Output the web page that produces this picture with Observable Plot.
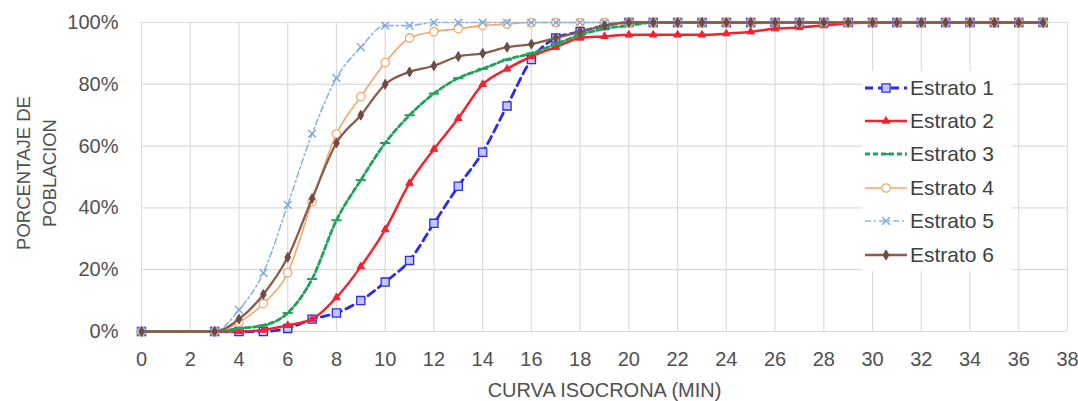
<!DOCTYPE html>
<html>
<head>
<meta charset="utf-8">
<script src="https://cdn.jsdelivr.net/npm/d3@7"></script>
<script src="https://cdn.jsdelivr.net/npm/@observablehq/plot@0.6"></script>
<style>
  html, body { margin: 0; padding: 0; background: #fff; }
  #wrap { position: relative; width: 1078px; height: 401px; overflow: hidden; font-family: "Liberation Sans", Arial, sans-serif; }
  #legend { position: absolute; left: 862px; top: 71px; width: 150px; background: #fff; padding: 0; }
  .item { display: flex; align-items: center; height: 33.4px; font-size: 21px; color: #404040; white-space: nowrap; }
  .item svg { margin-right: 2px; flex: none; }
</style>
</head>
<body>
<div id="wrap"></div>
<script>
// ---- data (percentage of population reached per isochrone minute) ----
const minutes = [0, 3, 4, 5, 6, 7, 8, 9, 10, 11, 12, 13, 14, 15, 16, 17, 18, 19, 20, 21, 22, 23, 24, 25, 26, 27, 28, 29, 30, 31, 32, 33, 34, 35, 36, 37];
const estrato1 = [0, 0, 0, 0, 1, 4, 6, 10, 16, 23, 35, 47, 58, 73, 88, 95, 97, 99, 100, 100, 100, 100, 100, 100, 100, 100, 100, 100, 100, 100, 100, 100, 100, 100, 100, 100];
const estrato2 = [0, 0, 0, 0.5, 2, 4, 11, 21, 33, 48, 59, 69, 80, 85, 89, 92, 95, 95.5, 96, 96, 96, 96, 96.4, 97, 98, 98.4, 99, 99.7, 100, 100, 100, 100, 100, 100, 100, 100];
const estrato3 = [0, 0, 1, 2, 6, 17, 36, 49, 61, 70, 77, 82, 85, 88, 90, 93, 96, 98, 99, 100, 100, 100, 100, 100, 100, 100, 100, 100, 100, 100, 100, 100, 100, 100, 100, 100];
const estrato4 = [0, 0, 3, 9, 19, 42, 64, 76, 87, 95, 97, 98, 99, 99.5, 100, 100, 100, 100, 100, 100, 100, 100, 100, 100, 100, 100, 100, 100, 100, 100, 100, 100, 100, 100, 100, 100];
const estrato5 = [0, 0, 7, 19, 41, 64, 82, 92, 99, 99, 100, 100, 100, 100, 100, 100, 100, 100, 100, 100, 100, 100, 100, 100, 100, 100, 100, 100, 100, 100, 100, 100, 100, 100, 100, 100];
const estrato6 = [0, 0, 4, 12, 24, 43, 61, 70, 80, 84, 86, 89, 90, 92, 93, 95, 97, 99, 100, 100, 100, 100, 100, 100, 100, 100, 100, 100, 100, 100, 100, 100, 100, 100, 100, 100];
const seriesNames = ["Estrato 1", "Estrato 2", "Estrato 3", "Estrato 4", "Estrato 5", "Estrato 6"];
const xTicks = [0, 2, 4, 6, 8, 10, 12, 14, 16, 18, 20, 22, 24, 26, 28, 30, 32, 34, 36, 38];
const yTicks = [0, 20, 40, 60, 80, 100];

const allValues = [estrato1, estrato2, estrato3, estrato4, estrato5, estrato6];

// dash marker symbol (for Estrato 3)
const dashSymbol = { draw(ctx, size) { const w = Math.sqrt(size) * 0.9; ctx.moveTo(-w, 0); ctx.lineTo(w, 0); } };

const styles = [
  { stroke: "#2b2bee", width: 2.8, dash: "8,5", symbol: "square", r: 4.6, fill: "#c4c4ff", mstroke: "#2b2bee", msw: 1.3 },
  { stroke: "#f5222d", width: 2.5, dash: null, symbol: "triangle", r: 2.8, fill: "#f5222d", mstroke: "#f5222d", msw: 1 },
  { stroke: "#1fa35a", width: 2.8, dash: "5,3", symbol: dashSymbol, r: 3.2, fill: "none", mstroke: "#1fa35a", msw: 2 },
  { stroke: "#f4a56c", width: 1.6, dash: null, symbol: "circle", r: 4.2, fill: "#fff", mstroke: "#f4a56c", msw: 1.3 },
  { stroke: "#90b4df", width: 1.6, dash: "6,3,2,3", symbol: "times", r: 3.6, fill: "none", mstroke: "#7fa6d8", msw: 1.4 },
  { stroke: "#8a5a4c", width: 2.3, dash: null, symbol: "diamond", r: 3, fill: "#6e4c46", mstroke: "#6e4c46", msw: 1 }
];

const rows = [];
seriesNames.forEach((name, i) => {
  minutes.forEach((m, j) => rows.push({ serie: name, idx: i, x: m, y: allValues[i][j] / 100 }));
});

const marks = [
  Plot.gridX(xTicks, { stroke: "#dcdcdc", strokeOpacity: 1, strokeWidth: 1.2 }),
  Plot.gridY(yTicks.map(v => v / 100), { stroke: "#dcdcdc", strokeOpacity: 1, strokeWidth: 1.2 })
];
seriesNames.forEach((name, i) => {
  const s = styles[i];
  const data = rows.filter(r => r.idx === i);
  marks.push(Plot.line(data, { x: "x", y: "y", stroke: s.stroke, strokeWidth: s.width, strokeDasharray: s.dash || undefined, curve: "monotone-x" }));
  marks.push(Plot.dot(data, { x: "x", y: "y", symbol: () => s.symbol, r: s.r, fill: s.fill, stroke: s.mstroke, strokeWidth: s.msw }));
});
marks.push(Plot.text(["PORCENTAJE DE\nPOBLACION"], { text: d => d, frameAnchor: "left", textAnchor: "middle", dx: -107, dy: -4, rotate: -90, fontSize: 18.5, fill: "#505050", lineHeight: 1.4, fontFamily: "Liberation Sans, Arial, sans-serif" }));

const chart = Plot.plot({
  width: 1078,
  height: 401,
  marginLeft: 141,
  marginRight: 11,
  marginTop: 22,
  marginBottom: 70,
  style: { fontFamily: "Liberation Sans, Arial, sans-serif", fontSize: "20px", color: "#505050", background: "#fff" },
  x: { domain: [0, 38], ticks: xTicks, tickSize: 0, tickPadding: 20, label: "CURVA ISOCRONA (MIN)", labelAnchor: "center", labelArrow: "none", labelOffset: 65 },
  y: { domain: [0, 1], ticks: yTicks.map(v => v / 100), tickFormat: d3.format(".0%"), tickSize: 0, tickPadding: 23, label: null },
  symbol: { type: "identity" },
  marks
});
document.getElementById("wrap").appendChild(chart);

// legend
const legend = document.createElement("div");
legend.id = "legend";
const symMap = { square: d3.symbolSquare, triangle: d3.symbolTriangle, circle: d3.symbolCircle, times: d3.symbolTimes, diamond: d3.symbolDiamond };
seriesNames.forEach((name, i) => {
  const s = styles[i];
  const item = document.createElement("div");
  item.className = "item";
  const svg = d3.create("svg").attr("width", 46).attr("height", 16);
  svg.append("line").attr("x1", 3).attr("x2", 45).attr("y1", 8).attr("y2", 8)
    .attr("stroke", s.stroke).attr("stroke-width", s.width).attr("stroke-dasharray", s.dash || null);
  const symType = typeof s.symbol === "string" ? symMap[s.symbol] : s.symbol;
  svg.append("path").attr("transform", "translate(24,8)")
    .attr("d", d3.symbol(symType, Math.PI * s.r * s.r)())
    .attr("fill", s.fill).attr("stroke", s.mstroke).attr("stroke-width", s.msw);
  item.appendChild(svg.node());
  const t = document.createElement("span");
  t.textContent = name;
  item.appendChild(t);
  legend.appendChild(item);
});
document.getElementById("wrap").appendChild(legend);
</script>
</body>
</html>
